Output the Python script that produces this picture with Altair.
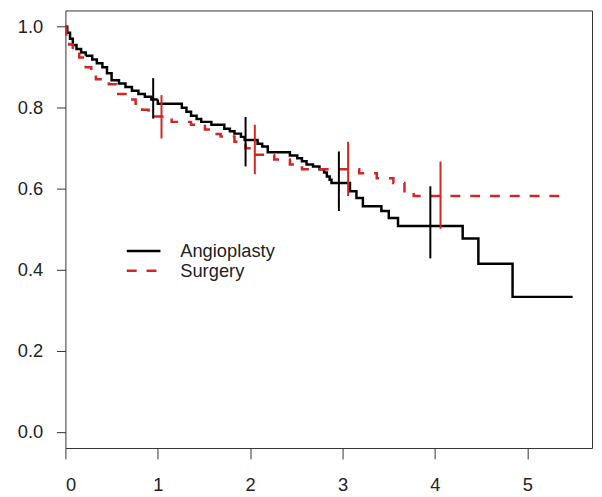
import altair as alt
import pandas as pd

# Kaplan-Meier style survival steps (time in years, survival probability)
angio_t = [0, 0.02, 0.05, 0.08, 0.12, 0.17, 0.22, 0.29, 0.34, 0.40, 0.45, 0.50, 0.58, 0.65,
           0.72, 0.79, 0.86, 0.93, 1.00, 1.26, 1.31, 1.36, 1.42, 1.47, 1.58, 1.72, 1.78,
           1.83, 1.90, 1.94, 2.08, 2.13, 2.19, 2.43, 2.51, 2.56, 2.61, 2.68, 2.75, 2.80,
           2.83, 2.86, 2.88, 3.08, 3.15, 3.22, 3.42, 3.50, 3.60, 4.30, 4.47, 4.84, 5.49]
angio_s = [1.0, 0.985, 0.97, 0.955, 0.945, 0.936, 0.928, 0.919, 0.91, 0.90, 0.885, 0.868,
           0.86, 0.851, 0.842, 0.834, 0.827, 0.82, 0.81, 0.80, 0.79, 0.78, 0.772, 0.765,
           0.758, 0.748, 0.742, 0.736, 0.728, 0.72, 0.711, 0.704, 0.69, 0.682, 0.675, 0.668,
           0.66, 0.655, 0.648, 0.64, 0.63, 0.622, 0.614, 0.594, 0.577, 0.557, 0.545, 0.528,
           0.508, 0.477, 0.415, 0.333, 0.333]

surg_t = [0, 0.01, 0.04, 0.08, 0.15, 0.22, 0.28, 0.33, 0.47, 0.55, 0.65, 0.76, 0.83, 0.90,
          1.15, 1.36, 1.51, 1.62, 1.68, 1.83, 1.95, 2.04, 2.26, 2.43, 2.56, 3.18, 3.37,
          3.55, 3.67, 3.77, 5.45]
surg_s = [1.0, 0.97, 0.956, 0.94, 0.924, 0.90, 0.885, 0.87, 0.858, 0.834, 0.82, 0.81, 0.795,
          0.778, 0.765, 0.758, 0.746, 0.735, 0.729, 0.716, 0.70, 0.684, 0.672, 0.66, 0.648,
          0.638, 0.626, 0.614, 0.594, 0.582, 0.582]

# Confidence intervals at yearly marks
angio_ci_t = [0.95, 1.95, 2.96, 3.95]
angio_ci_lo = [0.773, 0.655, 0.545, 0.428]
angio_ci_hi = [0.873, 0.777, 0.692, 0.606]

surg_ci_t = [1.04, 2.05, 3.06, 4.06]
surg_ci_lo = [0.724, 0.636, 0.582, 0.501]
surg_ci_hi = [0.831, 0.758, 0.716, 0.667]

groups = ["Angioplasty", "Surgery"]
colors = ["#000000", "#d42424"]

curves = pd.concat([
    pd.DataFrame({"t": angio_t, "s": angio_s, "group": groups[0], "o": range(len(angio_t))}),
    pd.DataFrame({"t": surg_t, "s": surg_s, "group": groups[1], "o": range(len(surg_t))}),
])
cis = pd.concat([
    pd.DataFrame({"t": angio_ci_t, "lo": angio_ci_lo, "hi": angio_ci_hi, "group": groups[0]}),
    pd.DataFrame({"t": surg_ci_t, "lo": surg_ci_lo, "hi": surg_ci_hi, "group": groups[1]}),
])

FONT = "Liberation Sans"

xscale = alt.Scale(domain=[0, 5.7], nice=False, zero=False)
yscale = alt.Scale(domain=[-0.04, 1.04], nice=False, zero=False)
cscale = alt.Scale(domain=groups, range=colors)

xaxis = alt.Axis(values=[0, 1, 2, 3, 4, 5], format="d", title=None, tickSize=11,
                 labelPadding=17, labelFontSize=18.5)
yaxis = alt.Axis(values=[0, 0.2, 0.4, 0.6, 0.8, 1.0], format=".1f", title=None, tickSize=9,
                 labelPadding=14, labelFontSize=18.5)

lines = alt.Chart(curves).mark_line(interpolate="step-after", strokeWidth=2.5).encode(
    x=alt.X("t:Q", scale=xscale, axis=xaxis),
    y=alt.Y("s:Q", scale=yscale, axis=yaxis),
    color=alt.Color("group:N", scale=cscale,
                    legend=alt.Legend(title=None, orient="none", legendX=69, legendY=233,
                                      symbolType="M-2,0H2", symbolSize=289,
                                      symbolStrokeWidth=2.5, labelFontSize=18.5,
                                      labelOffset=27, padding=0, rowPadding=0,
                                      labelColor="#222222", labelFont=FONT)),
    strokeDash=alt.StrokeDash("group:N",
                              scale=alt.Scale(domain=groups, range=[[1, 0], [10, 10]]),
                              legend=alt.Legend(title=None, orient="none", legendX=69,
                                                legendY=233)),
    order="o:Q",
)

bars = alt.Chart(cis).mark_rule(strokeWidth=2).encode(
    x=alt.X("t:Q", scale=xscale),
    y=alt.Y("lo:Q", scale=yscale),
    y2="hi:Q",
    color=alt.Color("group:N", scale=cscale, legend=None),
)

chart = (lines + bars).properties(
    width=532, height=442,
    autosize=alt.AutoSizeParams(type="none"),
    padding={"left": 58, "top": 0, "right": 2, "bottom": 46},
    background="white",
).configure_view(
    stroke="#333333", strokeWidth=1
).configure_axis(
    domain=False, grid=False, tickColor="#333333", tickWidth=1,
    labelColor="#222222", labelFont=FONT
).configure_legend(
    labelFont=FONT
)

chart.save("out.html", embed_options={"renderer": "svg", "actions": False})
